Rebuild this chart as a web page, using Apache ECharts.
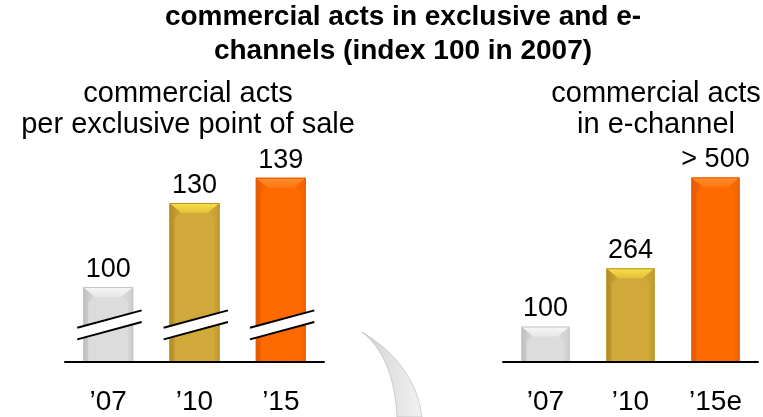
<!DOCTYPE html>
<html>
<head>
<meta charset="utf-8">
<script src="https://cdn.jsdelivr.net/npm/echarts@6/dist/echarts.min.js"></script>
<style>
  html, body { margin: 0; padding: 0; background: #fff; }
  #chart { width: 763px; height: 417px; }
</style>
</head>
<body>
<div id="chart"></div>
<script>
// Index values, 2007 = 100
const storeYears  = ['\u201907', '\u201910', '\u201915'];
const storeIndex  = [100, 130, 139];
const storeLabels = ['100', '130', '139'];
const storeBreakAt = 86.4;   // value axis is cut here (does not start at zero)

const webYears  = ['\u201907', '\u201910', '\u201915e'];
const webIndex  = [100, 264, 520];
const webLabels = ['100', '264', '> 500'];

const FONT = '"Liberation Sans", Arial, Helvetica, sans-serif';

// face / top bevel / left side / right side for each year
const palette = [
  { face: '#dcdcdc', top: ['#f7f7f7', '#e8e8e8'], left: '#bdbdbd', right: '#cecece', edge: '#c4c4c4' },
  { face: '#d1a93a', top: ['#f8e046', '#e4c03b'], left: '#b08a27', right: '#c39c31', edge: '#b8922c' },
  { face: '#ff6a00', top: ['#ff8f30', '#ff760f'], left: '#e35a00', right: '#f26300', edge: '#e25e05' }
];

function grad(x, y, x2, y2, c0, c1) {
  return { type: 'linear', x, y, x2, y2, colorStops: [{ offset: 0, color: c0 }, { offset: 1, color: c1 }] };
}

const chart = echarts.init(document.getElementById('chart'), null, { renderer: 'canvas' });

// Bevel decoration drawn over each bar
function bevel(barWidth) {
  return function (params, api) {
    const i = api.value(0);
    const p = api.coord([i, api.value(1)]);
    const cs = params.coordSys;
    const base = cs.y + cs.height;
    const x = p[0] - barWidth / 2, w = barWidth, top = p[1];
    const c = palette[i];
    const b = 10, s = 5;
    return {
      type: 'group',
      children: [
        { type: 'polygon', shape: { points: [[x, top], [x + b * 1.2, top + b], [x + s, top + b + 5], [x + s, base], [x, base]] },
          style: { fill: grad(0, 0, 1, 0, c.left, c.face) } },
        { type: 'polygon', shape: { points: [[x + w, top], [x + w - b * 1.2, top + b], [x + w - s, top + b + 5], [x + w - s, base], [x + w, base]] },
          style: { fill: grad(1, 0, 0, 0, c.right, c.face) } },
        { type: 'polygon', shape: { points: [[x, top], [x + w, top], [x + w - b * 1.2, top + b], [x + b * 1.2, top + b]] },
          style: { fill: grad(0, 0, 0, 1, c.top[0], c.top[1]) } },
        { type: 'rect', shape: { x: x + 0.5, y: top + 0.5, width: w - 1, height: base - top - 1 },
          style: { fill: 'none', stroke: c.edge, lineWidth: 1 } }
      ]
    };
  };
}

// Slanted double stroke marking the cut value axis
function axisCut(params, api) {
  const p = api.coord([api.value(0), api.value(1)]);
  const cx = p[0] + 1.3, cy = p[1];
  const ul = [cx - 32.2, cy + 2.7], ur = [cx + 32.2, cy - 14.7];
  const ll = [cx - 32.2, cy + 14.3], lr = [cx + 32.2, cy - 3.1];
  return {
    type: 'group',
    children: [
      { type: 'polygon', shape: { points: [ul, ur, lr, ll] }, style: { fill: '#fff' } },
      { type: 'line', shape: { x1: ul[0], y1: ul[1], x2: ur[0], y2: ur[1] }, style: { stroke: '#000', lineWidth: 2 } },
      { type: 'line', shape: { x1: ll[0], y1: ll[1], x2: lr[0], y2: lr[1] }, style: { stroke: '#000', lineWidth: 2 } }
    ]
  };
}

// Outline of the grey swoosh ornament: two cubic curves sampled into a polygon
function cubic(p0, p1, p2, p3, n) {
  const pts = [];
  for (let k = 0; k <= n; k++) {
    const t = k / n, u = 1 - t;
    pts.push([
      u * u * u * p0[0] + 3 * u * u * t * p1[0] + 3 * u * t * t * p2[0] + t * t * t * p3[0],
      u * u * u * p0[1] + 3 * u * u * t * p1[1] + 3 * u * t * t * p2[1] + t * t * t * p3[1]
    ]);
  }
  return pts;
}
const swoosh = cubic([362, 332], [385, 350], [395, 380], [397, 417], 30)
  .concat(cubic([422, 417], [418, 385], [400, 355], [362, 332], 30));

function xAxisFor(gridIndex, cats) {
  return {
    type: 'category', gridIndex, data: cats, z: 10,
    axisLine: { lineStyle: { color: '#000', width: 2 } },
    axisTick: { show: false },
    axisLabel: { color: '#000', fontFamily: FONT, fontSize: 28, margin: 26 }
  };
}

function barsFor(axisIndex, values, labels, barWidth) {
  return [
    {
      type: 'bar', xAxisIndex: axisIndex, yAxisIndex: axisIndex, barWidth,
      data: values.map((v, i) => ({ value: v, itemStyle: { color: palette[i].face } })),
      label: {
        show: true, position: 'top', distance: 4, color: '#000',
        fontFamily: FONT, fontSize: 27,
        formatter: (p) => labels[p.dataIndex]
      },
      silent: true, animation: false
    },
    {
      type: 'custom', xAxisIndex: axisIndex, yAxisIndex: axisIndex,
      data: values.map((v, i) => [i, v]),
      renderItem: bevel(barWidth), z: 3, silent: true, animation: false
    }
  ];
}

const option = {
  animation: false,
  backgroundColor: '#fff',
  grid: [
    { left: 65, width: 259, top: 147, bottom: 55 },
    { left: 503, width: 255, top: 149, bottom: 55 }
  ],
  xAxis: [xAxisFor(0, storeYears), xAxisFor(1, webYears)],
  yAxis: [
    { type: 'value', gridIndex: 0, min: 73.2, max: 150, show: false },
    { type: 'value', gridIndex: 1, min: 0, max: 600, show: false }
  ],
  series: [
    ...barsFor(0, storeIndex, storeLabels, 50),
    ...barsFor(1, webIndex, webLabels, 48),
    {
      type: 'custom', xAxisIndex: 0, yAxisIndex: 0,
      data: storeYears.map((_, i) => [i, storeBreakAt]),
      renderItem: axisCut, z: 6, silent: true, animation: false
    }
  ],
  graphic: [
    {
      type: 'text', x: 403, y: 0,
      style: {
        text: 'commercial acts in exclusive and e-\nchannels (index 100 in 2007)',
        align: 'center', verticalAlign: 'top', fill: '#000',
        font: 'bold 28px ' + FONT, lineHeight: 34
      }
    },
    {
      type: 'text', x: 188, y: 78,
      style: {
        text: 'commercial acts\nper exclusive point of sale',
        align: 'center', verticalAlign: 'top', fill: '#000',
        font: '29px ' + FONT, lineHeight: 31
      }
    },
    {
      type: 'text', x: 656, y: 78,
      style: {
        text: 'commercial acts\nin e-channel',
        align: 'center', verticalAlign: 'top', fill: '#000',
        font: '29px ' + FONT, lineHeight: 31
      }
    },
    {
      type: 'polygon', z: -1,
      shape: { points: swoosh },
      style: {
        fill: grad(0, 0, 1, 0, '#d2d2d2', '#f2f2f2'),
        stroke: '#b4b4b4', lineWidth: 0.6
      }
    }
  ]
};

chart.setOption(option);
</script>
</body>
</html>
